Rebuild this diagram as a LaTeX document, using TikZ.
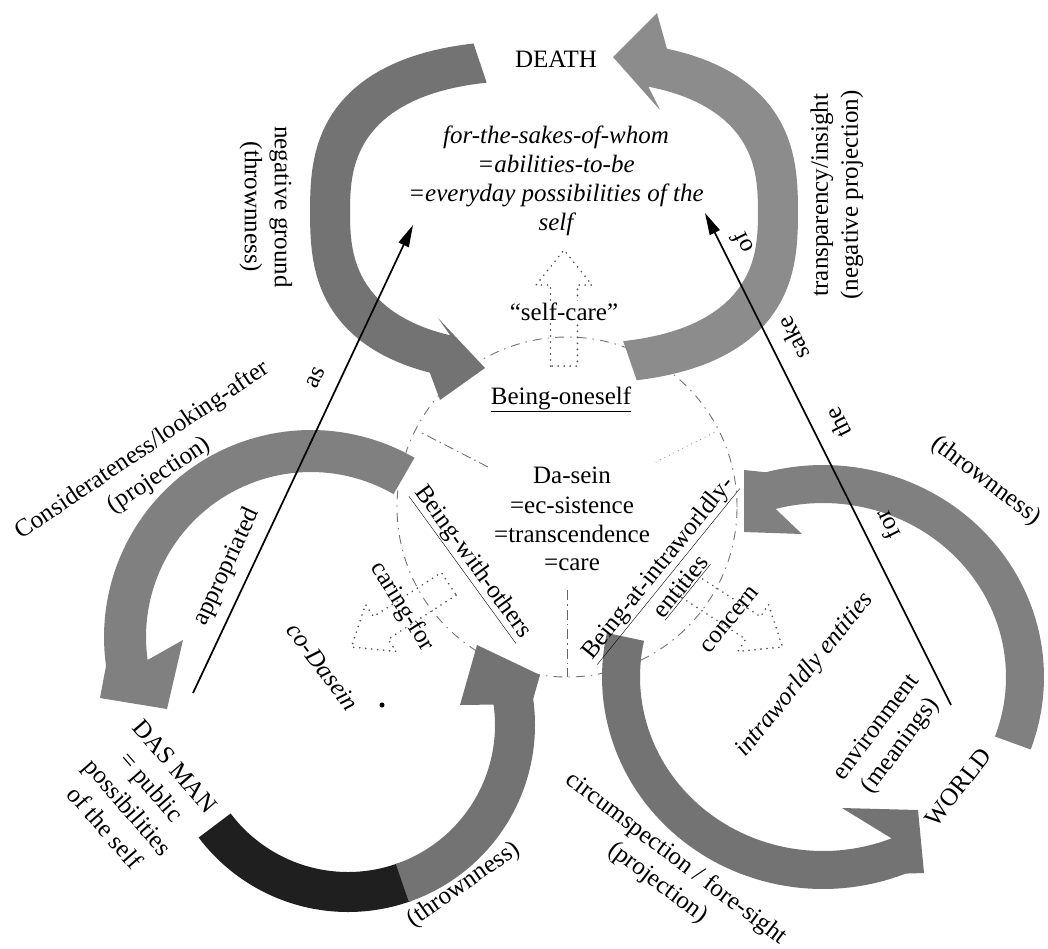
\documentclass[tikz,border=0pt]{standalone}
\usepackage{fontspec}
\setmainfont{Liberation Serif}
\usetikzlibrary{arrows.meta}
% ring arrow: #1 colour, #2 start angle, #3 end angle, #4 arrowhead path
\newcommand\ringarc[4]{%
  \fill[#1] plot[domain=#2:#3,samples=60]
   ({\rgX+(\rgA+\rgW)*cos(\x)*(abs(cos(\x))+0.001)^(\rgE-1)},{\rgY-(\rgB+\rgW)*sin(\x)*(abs(sin(\x))+0.001)^(\rgE-1)})
   #4
   -- plot[domain=#2:#3,samples=60]
   ({\rgX+(\rgA-\rgW)*cos(#2+#3-\x)*(abs(cos(#2+#3-\x))+0.001)^(\rgE-1)},{\rgY-(\rgB-\rgW)*sin(#2+#3-\x)*(abs(sin(#2+#3-\x))+0.001)^(\rgE-1)})
   -- cycle;}
\begin{document}
\begin{tikzpicture}[x=1pt,y=-1pt]
\tikzset{
 lbl/.style={inner sep=0pt, align=center, font=\fontsize{25}{30}\selectfont},
 itl/.style={inner sep=0pt, align=center, font=\fontsize{25}{29}\selectfont\itshape},
 longarrow/.style={line width=1.7pt, -{Triangle[length=22pt,width=11pt]}},
 dotarrow/.style={line width=1.8pt, black!70, dash pattern=on 0pt off 6pt, line cap=round, line join=round},
 divline/.style={line width=0.8pt, black!60, dash pattern=on 10pt off 4pt on 1.5pt off 4pt},
 dotline/.style={line width=1pt, black!55, dash pattern=on 0pt off 5pt, line cap=round},
 selfcircle/.style={draw=black!55, line width=0.9pt, dash pattern=on 9pt off 6pt on 1.5pt off 6pt},
}
\fill[white] (0,0) rectangle (1048,948);
\useasboundingbox (0,0) rectangle (1048,948);

% central circle and its dividing lines
\node[selfcircle, circle, minimum size=340pt, inner sep=0pt] (dasein) at (567,507) {};
\coordinate (ul1) at (488,467); \coordinate (ul2) at (420,432);
\coordinate (ur1) at (656,462); \coordinate (ur2) at (717,431);
\coordinate (dn1) at (567,590); \coordinate (dn2) at (567,677);
\draw[divline] (ul1) -- (ul2);
\draw[dotline] (ur1) -- (ur2);
\draw[divline] (dn1) -- (dn2);

% dotted block arrows
\begin{scope}[shift={(564,507)}]
\draw[dotarrow] (-13.5,-141) -- (-13.5,-222) -- (-28,-222) -- (0,-257) -- (28,-222) -- (13.5,-222) -- (13.5,-141) -- cycle;
\end{scope}
\begin{scope}[shift={(567,507)}, rotate=123]
\draw[dotarrow] (-13.5,-141) -- (-13.5,-222) -- (-28,-222) -- (0,-257) -- (28,-222) -- (13.5,-222) -- (13.5,-141) -- cycle;
\end{scope}
\begin{scope}[shift={(567,507)}, rotate=-123]
\draw[dotarrow] (-13.5,-141) -- (-13.5,-222) -- (-28,-222) -- (0,-257) -- (28,-222) -- (13.5,-222) -- (13.5,-141) -- cycle;
\end{scope}

% top ring
\def\rgX{554}\def\rgY{212}\def\rgA{224}\def\rgB{152}\def\rgW{20}\def\rgE{0.75}
\ringarc{black!55}{103.2}{246}{-- (440,400) -- (485,368) -- (438,318)}
\ringarc{black!45}{283.7}{429}{-- (657,13) -- (613,57) -- (660,110)}
% bottom-left ring
\def\rgX{311}\def\rgY{637}\def\rgA{186}\def\rgB{186}\def\rgW{21}\def\rgE{1}
\ringarc{black!50}{60}{188}{-- (100,698) -- (167,709) -- (183,640)}
\def\rgX{348}\def\rgY{725}\def\rgA{167}\def\rgB{167}\def\rgW{20}
\ringarc{black!88}{217}{290}{}
\ringarc{black!55}{289}{368}{-- (540,675) -- (477,645) -- (460,705)}
% bottom-right ring
\def\rgX{823}\def\rgY{677}\def\rgA{202}\def\rgB{193}\def\rgW{19}
\ringarc{black!50}{340}{465}{-- (744,470) -- (744,532) -- (802,534)}
\ringarc{black!55}{168}{292}{-- (924,873) -- (918,810) -- (842,808)}

% long arrows
\coordinate (la0) at (193,693); \coordinate (la1) at (413,225);
\draw[longarrow] (la0) -- (la1);
\coordinate (ra0) at (951,705); \coordinate (ra1) at (705,213);
\draw[longarrow] (ra0) -- (ra1);

% texts in top ring
\node[lbl, anchor=base] (death) at (556,67) {DEATH};
\node[itl, anchor=base] (fts1) at (556,143) {for-the-sakes-of-whom};
\node[itl, anchor=base] (fts2) at (556,172) {=abilities-to-be};
\node[itl, anchor=base] (fts3) at (556,201) {=everyday possibilities of the};
\node[itl, anchor=base] (fts4) at (556,230) {self};
\node[lbl, anchor=base, fill=white, inner sep=1pt] (selfcare) at (564,320) {“self-care”};
\node[lbl, rotate=-90] (neg) at (266,207) {negative ground\\(thrownness)};
\node[lbl, rotate=90] (transp) at (837,195) {transparency/insight\\(negative projection)};

% centre
\node[lbl, anchor=base] (oneself) at (561,404) {\underline{Being-oneself}};
\node[lbl, anchor=base] (ds1) at (572,483) {Da-sein};
\node[lbl, anchor=base] (ds2) at (572,513) {=ec-sistence};
\node[lbl, anchor=base] (ds3) at (572,542) {=transcendence};
\node[lbl, anchor=base] (ds4) at (572,570) {=care};
\node[lbl, rotate=-54] (bwo) at (472,563) {\underline{Being-with-others}};
\node[lbl, rotate=51] (bai) at (669,577) {\underline{Being-at-intraworldly-}\\\underline{entities}};
\node[lbl, rotate=-58] (caring) at (402,607) {caring-for};
\node[lbl, rotate=50] (concern) at (730,620) {concern};

% left side
\node[lbl, rotate=34] (consid) at (151,463) {Considerateness/looking-after\\(projection)};
\node[lbl, rotate=65] (approp) at (227,567) {appropriated};
\node[lbl, rotate=65] (as) at (316,378) {as};
\node[itl, rotate=-53] (codasein) at (323,667) {co-Dasein};
\node[circle, fill=black, inner sep=0pt, minimum size=5pt] (stray) at (382,705) {};
\node[lbl, rotate=-49, font=\fontsize{25}{31}\selectfont] (dasman) at (140,797) {DAS MAN\\= public\\possibilities\\of the self};
\node[lbl, rotate=35] (throwBL) at (464,885) {(thrownness)};

% right side
\node[lbl, rotate=116.6] (wof) at (742,243) {of};
\node[lbl, rotate=116.6] (wsake) at (793,338) {sake};
\node[lbl, rotate=116.6] (wthe) at (838,423) {the};
\node[lbl, rotate=116.6] (wfor) at (887,525) {for};
\node[lbl, rotate=-37] (throwBR) at (986,481) {(thrownness)};
\node[itl, rotate=51] (iwe) at (805,675) {intraworldly entities};
\node[lbl, rotate=53] (env) at (889,737) {environment\\(meanings)};
\node[lbl, rotate=52] (world) at (958,787) {WORLD};
\node[lbl, rotate=-37] (circum) at (667,871) {circumspection / fore-sight\\(projection)};
\end{tikzpicture}
\end{document}
